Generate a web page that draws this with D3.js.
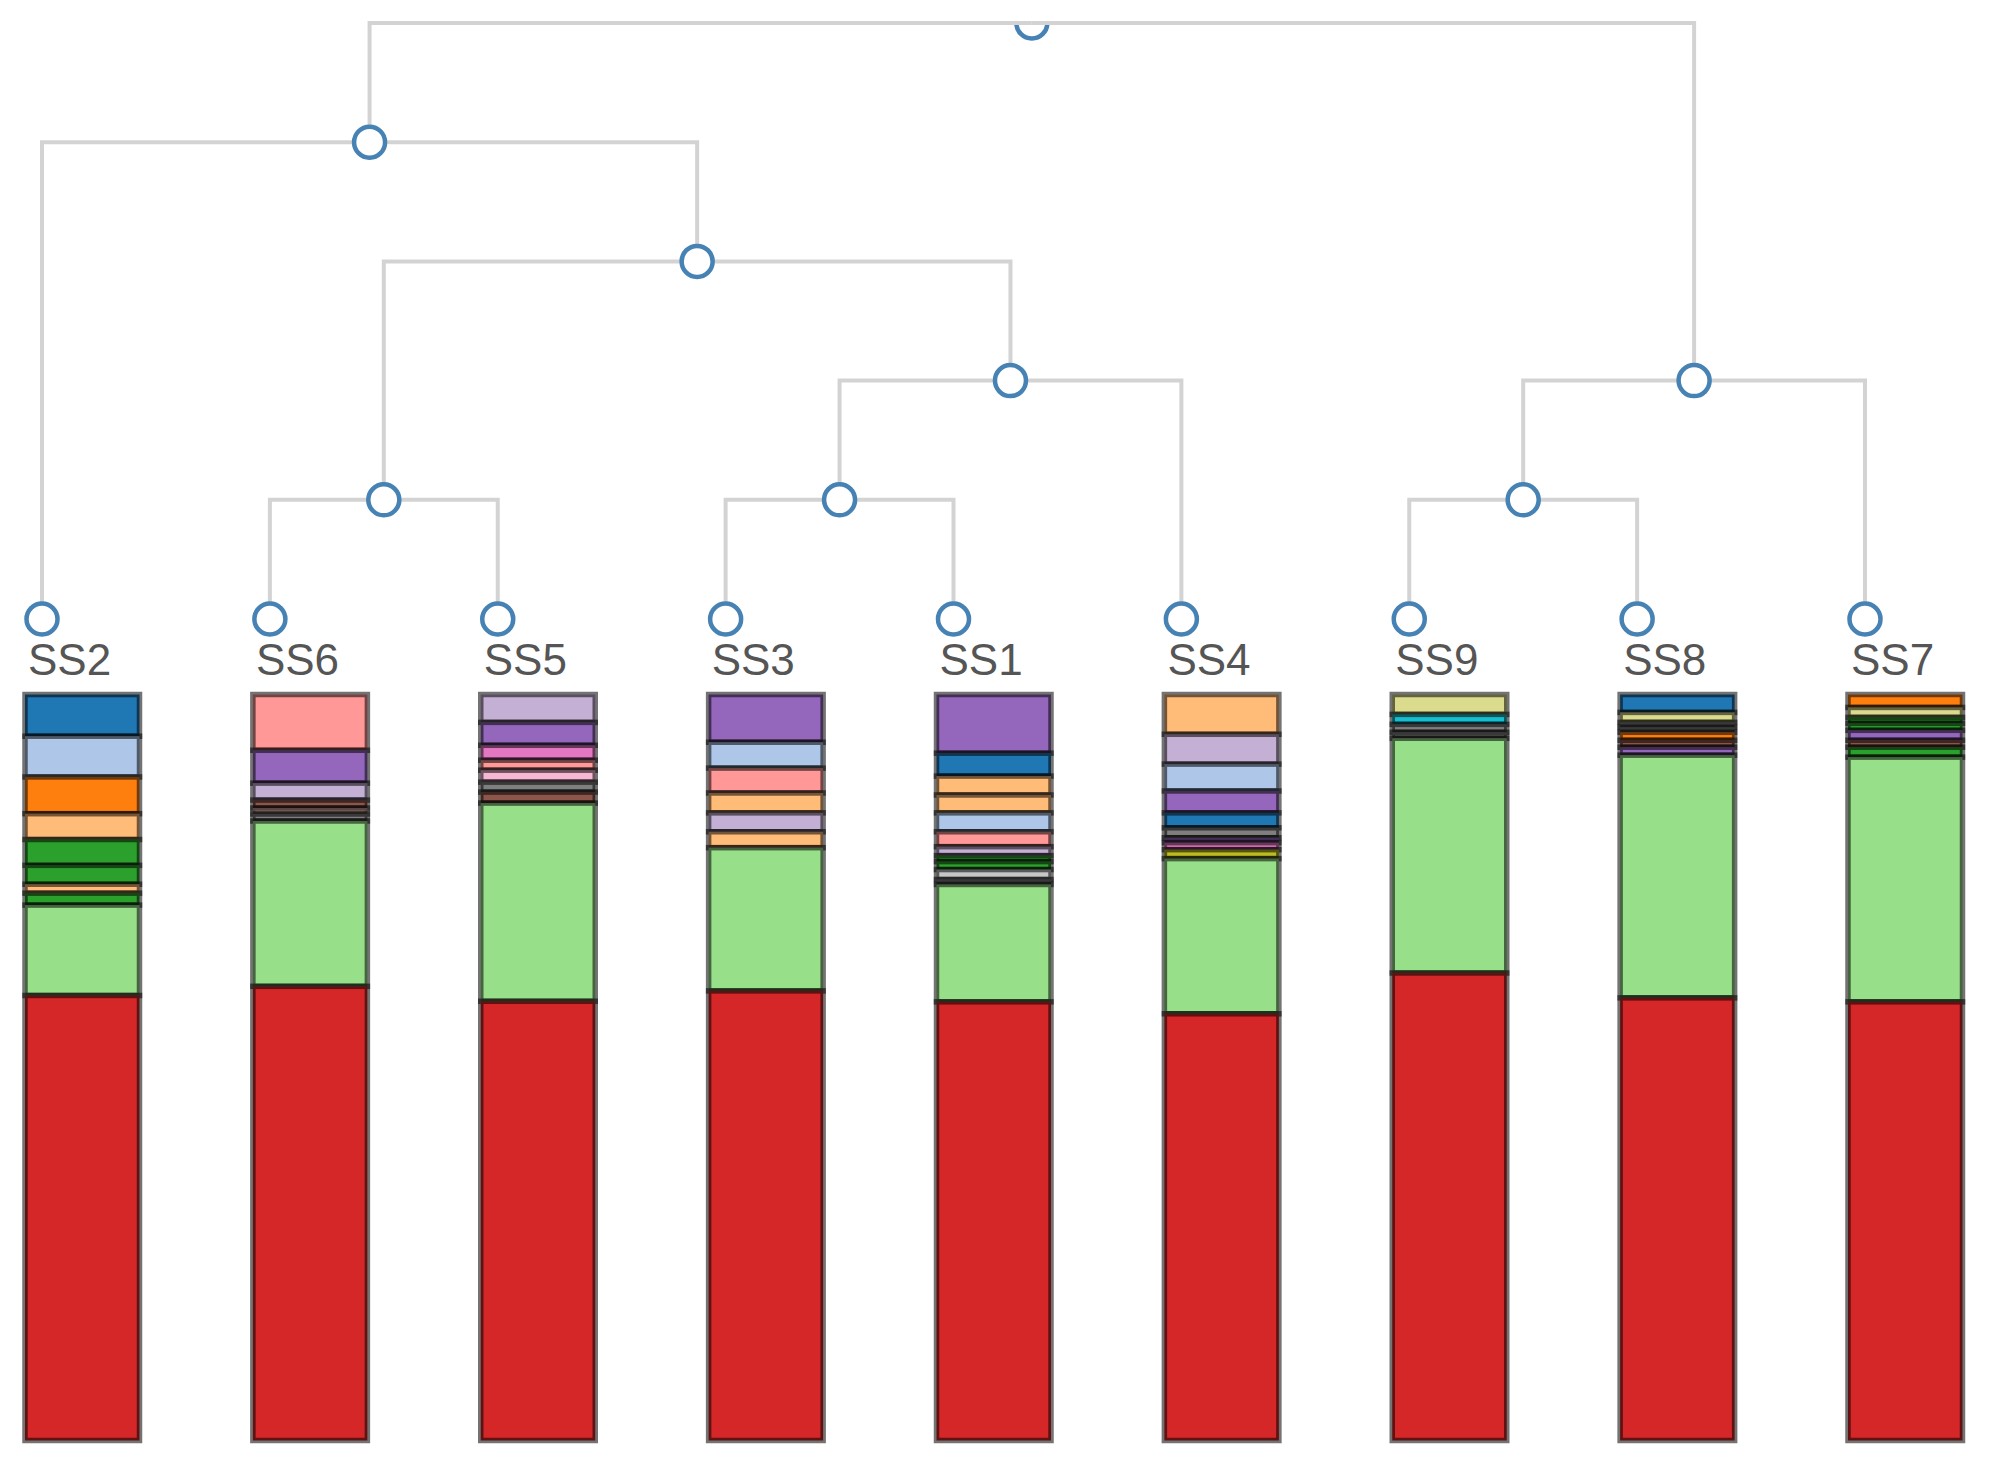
<!DOCTYPE html>
<html><head><meta charset="utf-8">
<script src="https://cdn.jsdelivr.net/npm/d3@7"></script>
<style>html,body{margin:0;padding:0;background:#fff;} svg{display:block}</style>
</head><body>
<svg id="chart" width="1994" height="1477"></svg>
<script>
// ---- data ----
const samples = ["SS2","SS6","SS5","SS3","SS1","SS4","SS9","SS8","SS7"];
// dendrogram (depth-first, children listed left to right)
const treeIds     = ["root","n1","SS2","n2","n3","SS6","SS5","n4","n5","SS3","SS1","SS4","n6","n7","SS9","SS8","SS7"];
const treeParents = ["",    "root","n1","n1","n2","n3","n3","n2","n4","n5","n5","n4","root","n6","n7","n7","n6"];

// stacked composition per sample, listed top to bottom (taxon id, abundance)
const taxaSS2   = [0, 1, 2, 3, 4, 24, 23, 44, 5, 6];
const valuesSS2 = [42, 41, 37, 26, 26, 19, 9, 12, 91, 448];
const taxaSS6   = [7, 8, 9, 10, 11, 14, 5, 6];
const valuesSS6 = [56, 33, 17, 8, 6, 7, 166, 456];
const taxaSS5   = [9, 8, 12, 7, 13, 14, 10, 5, 6];
const valuesSS5 = [28, 23, 15, 10, 12, 10, 11, 199, 441];
const taxaSS3   = [8, 1, 7, 3, 9, 23, 5, 6];
const valuesSS3 = [48, 26, 25, 20, 19, 16, 144, 452];
const taxaSS1   = [8, 0, 3, 23, 1, 7, 9, 4, 24, 15, 14, 5, 6];
const valuesSS1 = [59, 23, 19, 18, 19, 15, 9, 6, 8, 10, 5, 118, 441];
const taxaSS4   = [3, 9, 1, 8, 0, 14, 28, 12, 16, 5, 6];
const valuesSS4 = [40, 30, 27, 22, 15, 10, 5, 7, 9, 156, 429];
const taxaSS9   = [17, 18, 14, 34, 5, 6];
const valuesSS9 = [20, 10, 8, 6, 236, 470];
const taxaSS8   = [0, 17, 14, 34, 2, 10, 8, 5, 6];
const valuesSS8 = [18, 10, 5, 5, 8, 7, 8, 244, 445];
const taxaSS7   = [2, 17, 4, 24, 8, 10, 44, 5, 6];
const valuesSS7 = [13, 10, 6, 7, 10, 7, 10, 246, 441];

const composition = {
  SS2: [taxaSS2, valuesSS2], SS6: [taxaSS6, valuesSS6], SS5: [taxaSS5, valuesSS5],
  SS3: [taxaSS3, valuesSS3], SS1: [taxaSS1, valuesSS1], SS4: [taxaSS4, valuesSS4],
  SS9: [taxaSS9, valuesSS9], SS8: [taxaSS8, valuesSS8], SS7: [taxaSS7, valuesSS7]
};

// ---- style ----
const palette = ["#1f77b4","#aec7e8","#ff7f0e","#ffbb78","#2ca02c","#98df8a","#d62728","#ff9896",
  "#9467bd","#c5b0d5","#8c564b","#c49c94","#e377c2","#f7b6d2","#7f7f7f","#c7c7c7",
  "#bcbd22","#dbdb8d","#17becf","#9edae5"];
const color = d3.scaleOrdinal().domain(d3.range(20)).range(palette);

const leftX = 42, rightX = 1865, topY = 23, leafY = 619;
const barTop = 694.5, barBottom = 1440.5, barOffset = 17, barW = 114.5;

const svg = d3.select("#chart");

const root = d3.stratify().id((d, i) => treeIds[i]).parentId((d, i) => treeParents[i] || null)(treeIds.map(d => ({name: d})));
const nLeaves = root.leaves().length;
const spacing = (rightX - leftX) / (nLeaves - 1);
d3.cluster().size([spacing * nLeaves, leafY - topY]).separation(() => 1)(root);
root.each(d => { d.x += leftX - spacing / 2; d.y += topY; });

// bars
const bars = svg.append("g");
root.leaves().forEach(leaf => {
  const [taxa, vals] = composition[leaf.id];
  const y = d3.scaleLinear().domain([0, d3.sum(vals)]).range([barTop, barBottom]);
  const cum = [0, ...d3.cumsum(vals)];
  const g = bars.append("g");
  g.selectAll("rect").data(taxa).join("rect")
    .attr("x", leaf.x - barOffset)
    .attr("width", barW)
    .attr("y", (t, i) => y(cum[i]))
    .attr("height", (t, i) => y(cum[i + 1]) - y(cum[i]))
    .attr("fill", t => color(t % 20))
    .attr("stroke", "#000")
    .attr("stroke-opacity", 0.55)
    .attr("stroke-width", 5.5);
});

// links
svg.append("g").selectAll("path").data(root.links()).join("path")
  .attr("d", l => `M${l.source.x},${l.source.y}H${l.target.x}V${l.target.y}`)
  .attr("fill", "none")
  .attr("stroke", "#d3d3d3")
  .attr("stroke-width", 4);

// nodes
svg.append("clipPath").attr("id", "nodeclip").append("rect")
  .attr("x", 0).attr("y", topY + 2).attr("width", 1994).attr("height", 1477);
svg.append("g").attr("clip-path", "url(#nodeclip)")
  .selectAll("circle").data(root.descendants()).join("circle")
  .attr("cx", d => d.x).attr("cy", d => d.y).attr("r", 15.5)
  .attr("fill", "#fff").attr("stroke", "#4682b4").attr("stroke-width", 4.5);

// labels
svg.append("g").selectAll("text").data(root.leaves()).join("text")
  .attr("x", d => d.x - 14).attr("y", 675)
  .attr("font-family", "Liberation Sans, Arial, sans-serif")
  .attr("font-size", 44)
  .attr("fill", "#555")
  .text(d => d.id);
</script>
</body></html>
